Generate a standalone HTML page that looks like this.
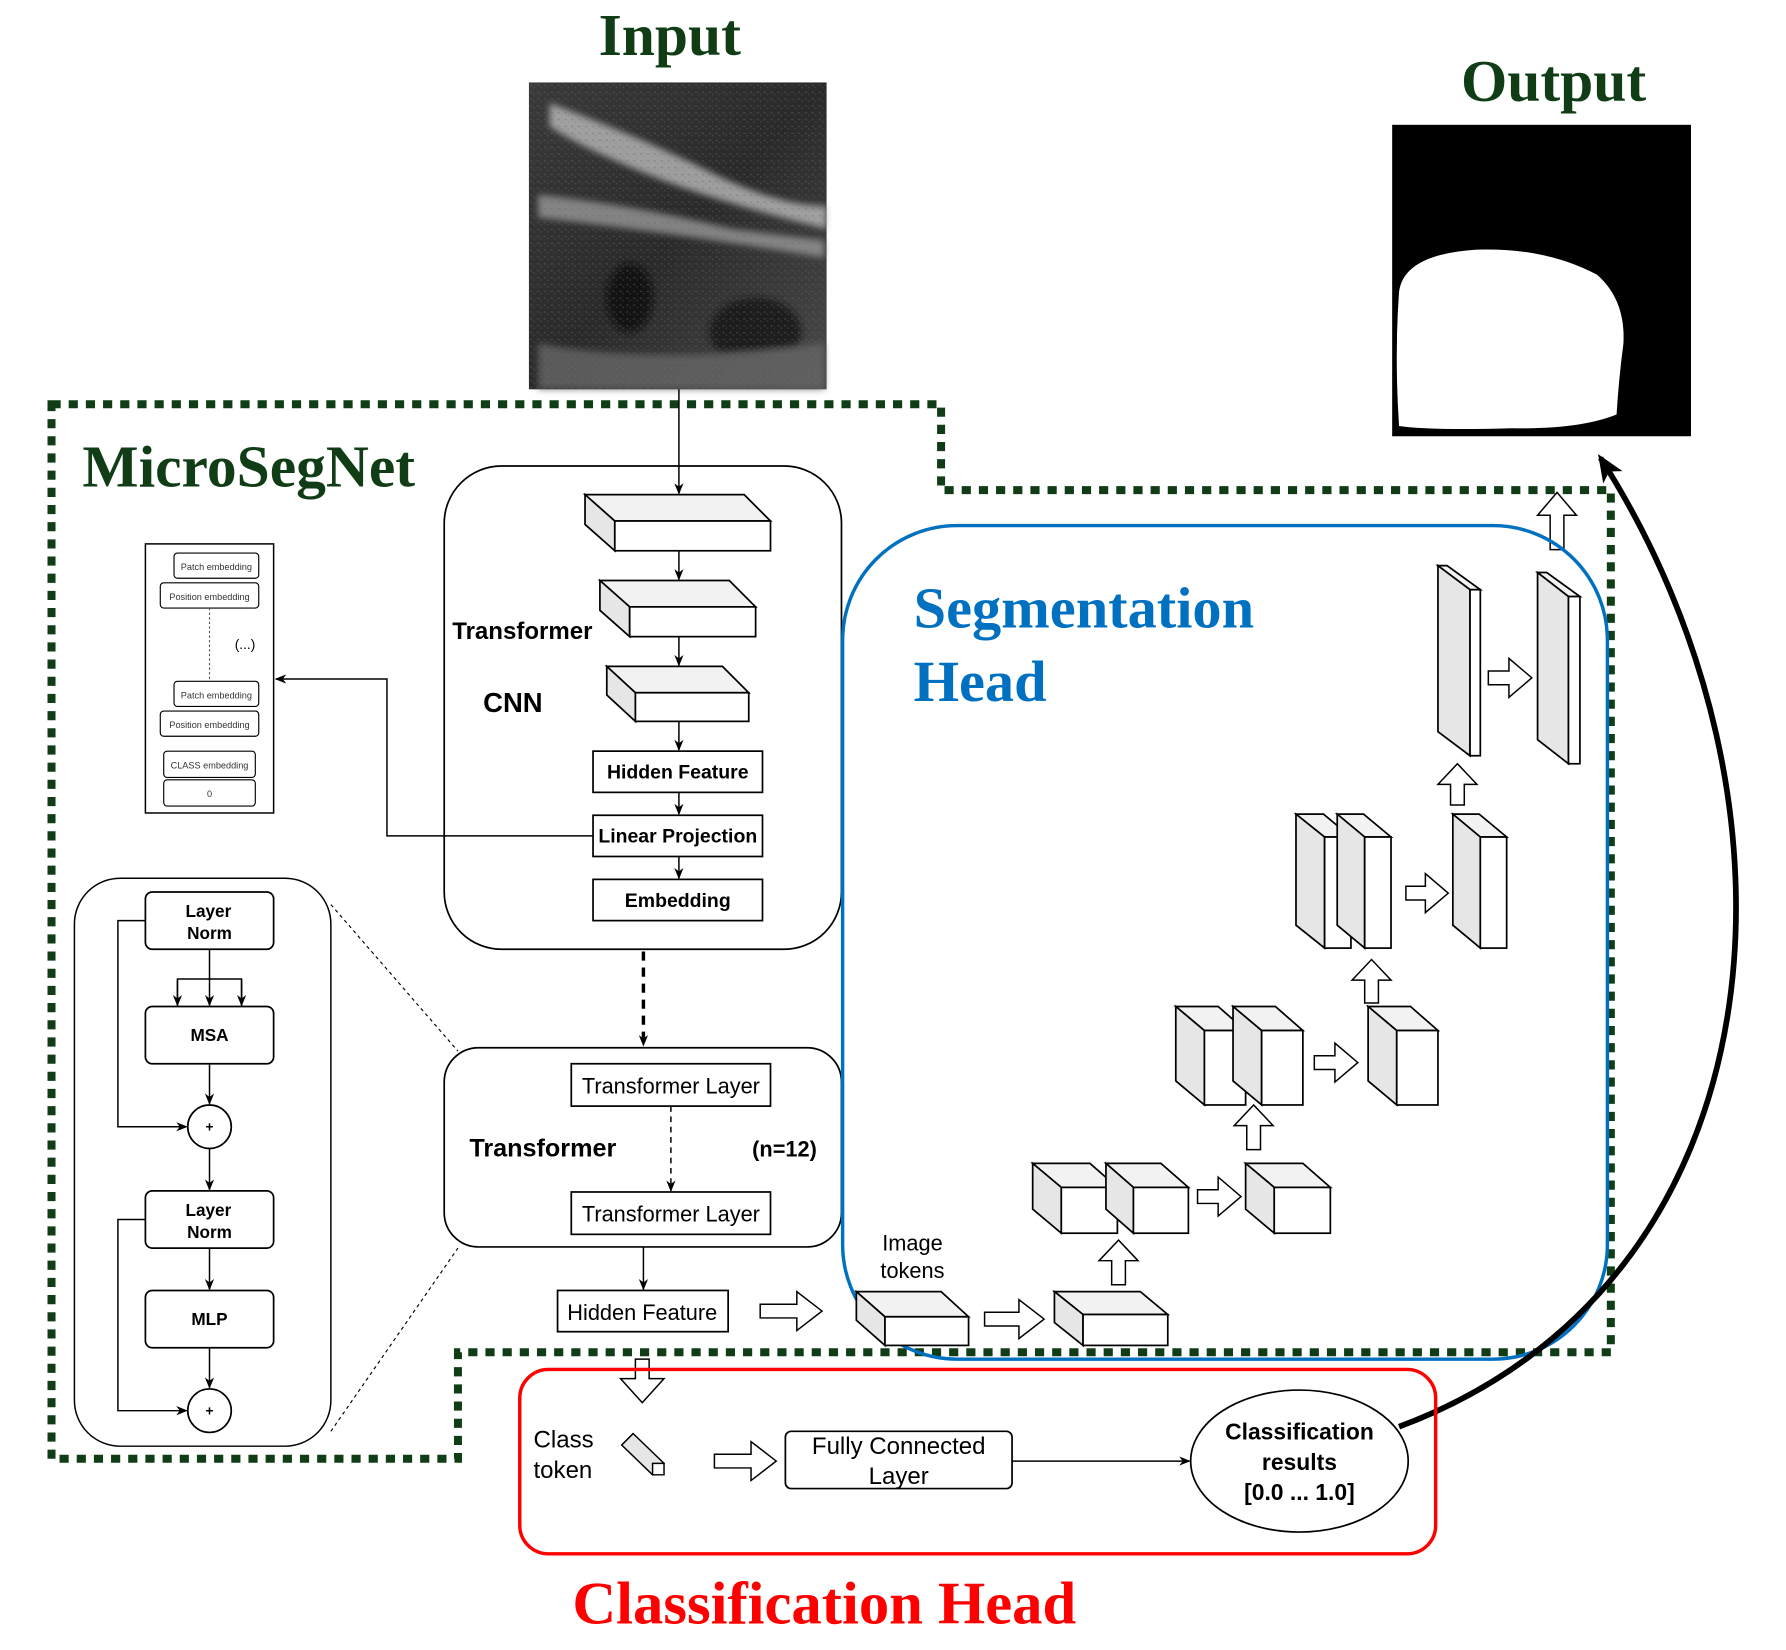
<!DOCTYPE html>
<html><head><meta charset="utf-8"><style>
html,body{margin:0;padding:0;background:#fff}
svg{display:block}
.s{font-family:"Liberation Sans",sans-serif}
.t{font-family:"Liberation Serif",serif;font-weight:bold}
</style></head><body>
<svg width="1786" height="1650" viewBox="0 0 1560 1441" preserveAspectRatio="none" xmlns="http://www.w3.org/2000/svg">
<defs>
<marker id="a" markerWidth="10" markerHeight="10" refX="9" refY="5" orient="auto" markerUnits="userSpaceOnUse"><path d="M0,1 L10,5 L0,9 L3,5 z" fill="#000"/></marker>
<marker id="ab" markerWidth="26" markerHeight="26" refX="20" refY="13" orient="auto" markerUnits="userSpaceOnUse"><path d="M0,3 L24,13 L0,23 L6,13 z" fill="#000"/></marker>
<linearGradient id="us" x1="0" y1="0" x2="1" y2="1"><stop offset="0" stop-color="#3a3a3a"/><stop offset="0.5" stop-color="#2a2a2a"/><stop offset="1" stop-color="#4a4a4a"/></linearGradient>
<filter id="bl"><feGaussianBlur stdDeviation="3"/></filter>
<pattern id="nz" width="6" height="6" patternUnits="userSpaceOnUse"><rect width="6" height="6" fill="none"/><rect x="1" y="2" width="2" height="1" fill="#666"/><rect x="4" y="4" width="1" height="1" fill="#777"/></pattern>
</defs>

<text x="585" y="48" text-anchor="middle" class="t" font-size="52" fill="#113d16">Input</text>
<text x="1357" y="88" text-anchor="middle" class="t" font-size="52" fill="#113d16">Output</text>

<rect x="462" y="72" width="260" height="268" fill="url(#us)"/>
<g filter="url(#bl)" opacity="0.8">
<path d="M480,90 Q560,120 620,150 T722,180 L722,200 Q620,175 560,150 T480,110 z" fill="#bbb"/>
<path d="M470,170 Q560,180 640,200 L720,210 L720,225 Q600,205 470,190 z" fill="#999"/>
<ellipse cx="550" cy="260" rx="20" ry="30" fill="#111"/>
<ellipse cx="660" cy="290" rx="40" ry="30" fill="#151515"/>
<path d="M470,300 Q580,320 720,300 L720,340 L470,340 z" fill="#666"/>
</g>
<rect x="462" y="72" width="260" height="268" fill="url(#nz)" opacity="0.5"/>

<rect x="1216" y="109" width="261" height="272" fill="#000"/>
<path d="M1222,255 Q1226,222 1290,218 Q1350,216 1395,240 Q1420,262 1418,300 Q1414,330 1412,362 Q1380,375 1320,374 Q1250,376 1222,372 Q1218,310 1222,255 z" fill="#fff"/>

<path d="M45,353 L822,353 L822,428 L1407,428 L1407,1181 L400,1181 L400,1274 L45,1274 z" fill="none" stroke="#113d16" stroke-width="7" stroke-dasharray="8,7"/>
<text x="72" y="425" class="t" font-size="52" fill="#113d16">MicroSegNet</text>

<line x1="593" y1="340" x2="593" y2="431" stroke="#000" stroke-width="1.3" marker-end="url(#a)"/>

<rect x="388" y="407" width="347" height="422" rx="50" fill="none" stroke="#000" stroke-width="1.5"/>
<g stroke="#000" stroke-width="1.5">
<polygon points="511,432 650,432 673,455 537,455" fill="#f2f2f2"/>
<polygon points="511,432 537,455 537,481 511,458" fill="#e6e6e6"/>
<rect x="537" y="455" width="136" height="26" fill="#fff"/>
<polygon points="524,507 637,507 660,530 550,530" fill="#f2f2f2"/>
<polygon points="524,507 550,530 550,556 524,533" fill="#e6e6e6"/>
<rect x="550" y="530" width="110" height="26" fill="#fff"/>
<polygon points="530,582 631,582 654,605 555,605" fill="#f2f2f2"/>
<polygon points="530,582 555,605 555,630 530,607" fill="#e6e6e6"/>
<rect x="555" y="605" width="99" height="25" fill="#fff"/>
</g>
<g stroke="#000" stroke-width="1.3">
<line x1="593" y1="481" x2="593" y2="506" marker-end="url(#a)"/>
<line x1="593" y1="556" x2="593" y2="581" marker-end="url(#a)"/>
<line x1="593" y1="630" x2="593" y2="655" marker-end="url(#a)"/>
<line x1="593" y1="692" x2="593" y2="711" marker-end="url(#a)"/>
<line x1="593" y1="748" x2="593" y2="767" marker-end="url(#a)"/>
</g>
<text x="395" y="558" class="s" font-weight="bold" font-size="21">Transformer</text>
<text x="422" y="622" class="s" font-weight="bold" font-size="24">CNN</text>
<g fill="#fff" stroke="#000" stroke-width="1.5">
<rect x="518" y="656" width="148" height="36"/>
<rect x="518" y="712" width="148" height="36"/>
<rect x="518" y="768" width="148" height="36"/>
</g>
<g class="s" font-weight="bold" font-size="17" text-anchor="middle">
<text x="592" y="680">Hidden Feature</text>
<text x="592" y="736">Linear Projection</text>
<text x="592" y="792">Embedding</text>
</g>
<polyline points="518,730 338,730 338,593 241,593" fill="none" stroke="#000" stroke-width="1.3" marker-end="url(#a)"/>

<rect x="127" y="475" width="112" height="235" fill="#fff" stroke="#000" stroke-width="1.3"/>
<g fill="#fff" stroke="#000" stroke-width="1">
<rect x="152" y="483" width="74" height="22" rx="3"/>
<rect x="140" y="509" width="86" height="22" rx="3"/>
<rect x="152" y="595" width="74" height="22" rx="3"/>
<rect x="140" y="621" width="86" height="22" rx="3"/>
<rect x="143" y="656" width="80" height="23" rx="3"/>
<rect x="143" y="681" width="80" height="23" rx="3"/>
</g>
<line x1="183" y1="531" x2="183" y2="595" stroke="#555" stroke-dasharray="2,2"/>
<g class="s" font-size="8" text-anchor="middle" fill="#333">
<text x="189" y="498">Patch embedding</text>
<text x="183" y="524">Position embedding</text>
<text x="189" y="610">Patch embedding</text>
<text x="183" y="636">Position embedding</text>
<text x="183" y="671">CLASS embedding</text>
<text x="183" y="696">0</text>
</g>
<text x="214" y="567" class="s" font-size="12" text-anchor="middle">(...)</text>

<rect x="65" y="767" width="224" height="496" rx="40" fill="none" stroke="#000" stroke-width="1.3"/>
<g fill="#fff" stroke="#000" stroke-width="1.5">
<rect x="127" y="779" width="112" height="50" rx="6"/>
<rect x="127" y="879" width="112" height="50" rx="6"/>
<rect x="127" y="1040" width="112" height="50" rx="6"/>
<rect x="127" y="1127" width="112" height="50" rx="6"/>
<circle cx="183" cy="984" r="19"/>
<circle cx="183" cy="1232" r="19"/>
</g>
<g class="s" font-weight="bold" font-size="15" text-anchor="middle">
<text x="182" y="801">Layer</text><text x="183" y="820">Norm</text>
<text x="183" y="909">MSA</text>
<text x="182" y="1062">Layer</text><text x="183" y="1081">Norm</text>
<text x="183" y="1157">MLP</text>
<text x="183" y="988" font-size="12">+</text>
<text x="183" y="1236" font-size="12">+</text>
</g>
<g stroke="#000" stroke-width="1.3" fill="none">
<line x1="183" y1="829" x2="183" y2="878" marker-end="url(#a)"/>
<polyline points="155,878 155,855 211,855 211,878"/>
<line x1="155" y1="856" x2="155" y2="878" marker-end="url(#a)"/>
<line x1="211" y1="856" x2="211" y2="878" marker-end="url(#a)"/>
<line x1="183" y1="929" x2="183" y2="964" marker-end="url(#a)"/>
<line x1="183" y1="1003" x2="183" y2="1039" marker-end="url(#a)"/>
<line x1="183" y1="1090" x2="183" y2="1126" marker-end="url(#a)"/>
<line x1="183" y1="1177" x2="183" y2="1212" marker-end="url(#a)"/>
<polyline points="127,804 103,804 103,984 163,984" marker-end="url(#a)"/>
<polyline points="127,1065 103,1065 103,1232 163,1232" marker-end="url(#a)"/>
</g>
<g stroke="#000" stroke-width="1" stroke-dasharray="3,3">
<line x1="289" y1="790" x2="400" y2="918"/>
<line x1="289" y1="1250" x2="400" y2="1090"/>
</g>

<line x1="562" y1="831" x2="562" y2="913" stroke="#000" stroke-width="3" stroke-dasharray="8,6" marker-end="url(#a)"/>

<rect x="388" y="915" width="347" height="174" rx="30" fill="none" stroke="#000" stroke-width="1.5"/>
<g fill="#fff" stroke="#000" stroke-width="1.5">
<rect x="499" y="929" width="174" height="37"/>
<rect x="499" y="1041" width="174" height="37"/>
</g>
<g class="s" font-size="19" text-anchor="middle">
<text x="586" y="955">Transformer Layer</text>
<text x="586" y="1067">Transformer Layer</text>
</g>
<line x1="586" y1="966" x2="586" y2="1040" stroke="#000" stroke-width="1.3" stroke-dasharray="5,4" marker-end="url(#a)"/>
<text x="410" y="1010" class="s" font-weight="bold" font-size="22">Transformer</text>
<text x="657" y="1010" class="s" font-weight="bold" font-size="19">(n=12)</text>

<line x1="562" y1="1089" x2="562" y2="1126" stroke="#000" stroke-width="1.3" marker-end="url(#a)"/>
<rect x="487" y="1127" width="149" height="36" fill="#fff" stroke="#000" stroke-width="1.5"/>
<text x="561" y="1153" class="s" font-size="19" text-anchor="middle">Hidden Feature</text>

<g fill="#fff" stroke="#000" stroke-width="1.3">
<polygon points="664,1139 696,1139 696,1128 718,1145 696,1162 696,1151 664,1151"/>
<polygon points="860,1146 890,1146 890,1135 912,1152 890,1169 890,1158 860,1158"/>
<polygon points="624,1270 656,1270 656,1259 678,1276 656,1293 656,1282 624,1282"/>
<polygon points="1046,1039 1064,1039 1064,1028 1084,1045 1064,1062 1064,1051 1046,1051"/>
<polygon points="1148,922 1166,922 1166,911 1186,928 1166,945 1166,934 1148,934"/>
<polygon points="1228,774 1245,774 1245,763 1265,780 1245,797 1245,786 1228,786"/>
<polygon points="1300,586 1318,586 1318,575 1338,592 1318,609 1318,598 1300,598"/>
<polygon points="971,1122 971,1101 960,1101 977,1083 994,1101 983,1101 983,1122"/>
<polygon points="1089,1004 1089,983 1078,983 1095,965 1112,983 1101,983 1101,1004"/>
<polygon points="1192,876 1192,856 1181,856 1198,838 1215,856 1204,856 1204,876"/>
<polygon points="1267,703 1267,685 1256,685 1273,667 1290,685 1279,685 1279,703"/>
<polygon points="1354,480 1354,450 1343,450 1360,430 1377,450 1366,450 1366,480"/>
<polygon points="555,1187 567,1187 567,1204 580,1204 561,1225 542,1204 555,1204"/>
</g>

<rect x="736" y="459" width="668" height="728" rx="100" fill="none" stroke="#0070c0" stroke-width="3"/>
<text x="798" y="548" class="t" font-size="51" fill="#0070c0">Segmentation</text>
<text x="798" y="612" class="t" font-size="51" fill="#0070c0">Head</text>
<g class="s" font-size="19" text-anchor="middle">
<text x="797" y="1092">Image</text><text x="797" y="1116">tokens</text>
</g>

<g stroke="#000" stroke-width="1.5">
<polygon points="748,1128 822,1128 846,1150 773,1150" fill="#f2f2f2"/>
<polygon points="748,1128 773,1150 773,1175 748,1153" fill="#e6e6e6"/>
<rect x="773" y="1150" width="73" height="25" fill="#fff"/>
<polygon points="921,1128 996,1128 1020,1148 946,1148" fill="#f2f2f2"/>
<polygon points="921,1128 946,1148 946,1175 921,1155" fill="#e6e6e6"/>
<rect x="946" y="1148" width="74" height="27" fill="#fff"/>
<polygon points="902,1016 952,1016 976,1037 927,1037" fill="#f2f2f2"/>
<polygon points="902,1016 927,1037 927,1077 902,1056" fill="#e6e6e6"/>
<rect x="927" y="1037" width="49" height="40" fill="#fff"/>
<polygon points="966,1016 1014,1016 1038,1037 990,1037" fill="#f2f2f2"/>
<polygon points="966,1016 990,1037 990,1077 966,1056" fill="#e6e6e6"/>
<rect x="990" y="1037" width="48" height="40" fill="#fff"/>
<polygon points="1088,1016 1138,1016 1162,1037 1113,1037" fill="#f2f2f2"/>
<polygon points="1088,1016 1113,1037 1113,1077 1088,1056" fill="#e6e6e6"/>
<rect x="1113" y="1037" width="49" height="40" fill="#fff"/>
<polygon points="1027,879 1064,879 1088,900 1052,900" fill="#f2f2f2"/>
<polygon points="1027,879 1052,900 1052,965 1027,944" fill="#e6e6e6"/>
<rect x="1052" y="900" width="36" height="65" fill="#fff"/>
<polygon points="1077,879 1114,879 1138,900 1102,900" fill="#f2f2f2"/>
<polygon points="1077,879 1102,900 1102,965 1077,944" fill="#e6e6e6"/>
<rect x="1102" y="900" width="36" height="65" fill="#fff"/>
<polygon points="1195,879 1232,879 1256,900 1220,900" fill="#f2f2f2"/>
<polygon points="1195,879 1220,900 1220,965 1195,944" fill="#e6e6e6"/>
<rect x="1220" y="900" width="36" height="65" fill="#fff"/>
<polygon points="1132,711 1156,711 1180,731 1157,731" fill="#f2f2f2"/>
<polygon points="1132,711 1157,731 1157,828 1132,808" fill="#e6e6e6"/>
<rect x="1157" y="731" width="23" height="97" fill="#fff"/>
<polygon points="1168,711 1191,711 1215,731 1192,731" fill="#f2f2f2"/>
<polygon points="1168,711 1192,731 1192,828 1168,808" fill="#e6e6e6"/>
<rect x="1192" y="731" width="23" height="97" fill="#fff"/>
<polygon points="1269,711 1292,711 1316,731 1293,731" fill="#f2f2f2"/>
<polygon points="1269,711 1293,731 1293,828 1269,808" fill="#e6e6e6"/>
<rect x="1293" y="731" width="23" height="97" fill="#fff"/>
<polygon points="1256,494 1264,494 1293,515 1284,515" fill="#f2f2f2"/>
<polygon points="1256,494 1284,515 1284,660 1256,639" fill="#e6e6e6"/>
<rect x="1284" y="515" width="9" height="145" fill="#fff"/>
<polygon points="1343,500 1351,500 1380,521 1370,521" fill="#f2f2f2"/>
<polygon points="1343,500 1370,521 1370,667 1343,646" fill="#e6e6e6"/>
<rect x="1370" y="521" width="10" height="146" fill="#fff"/>
</g>

<path d="M1222,1246 C1560,1120 1590,700 1398,400" fill="none" stroke="#000" stroke-width="5" marker-end="url(#ab)"/>

<rect x="454" y="1196" width="800" height="161" rx="25" fill="none" stroke="#f00" stroke-width="3"/>
<g class="s" font-size="21">
<text x="466" y="1264">Class</text><text x="466" y="1291">token</text>
</g>
<g stroke="#000" stroke-width="1.3">
<polygon points="543,1262 553,1252 580,1278 570,1288" fill="#e6e6e6"/>
<polygon points="570,1278 580,1278 580,1288 570,1288" fill="#fff"/>
</g>
<rect x="686" y="1250" width="198" height="50" rx="5" fill="#fff" stroke="#000" stroke-width="1.5"/>
<g class="s" font-size="21" text-anchor="middle">
<text x="785" y="1270">Fully Connected</text><text x="785" y="1296">Layer</text>
</g>
<line x1="884" y1="1276" x2="1039" y2="1276" stroke="#000" stroke-width="1.3" marker-end="url(#a)"/>
<ellipse cx="1135" cy="1276" rx="95" ry="62" fill="#fff" stroke="#000" stroke-width="1.5"/>
<g class="s" font-weight="bold" font-size="20" text-anchor="middle">
<text x="1135" y="1257">Classification</text>
<text x="1135" y="1284">results</text>
<text x="1135" y="1310">[0.0 ... 1.0]</text>
</g>
<text x="720" y="1418" text-anchor="middle" class="t" font-size="53" fill="#f00">Classification Head</text>
</svg>
</body></html>
